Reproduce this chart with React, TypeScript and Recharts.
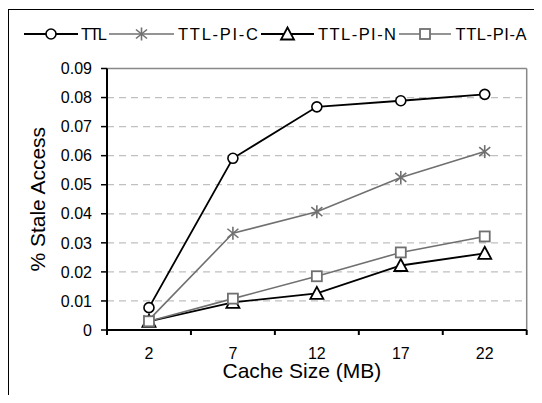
import React from 'react';
import { LineChart, Line, XAxis, YAxis, CartesianGrid, ReferenceLine, Label } from 'recharts';

const cacheSizes = ['2', '7', '12', '17', '22'];
const ttl = [0.0077, 0.0591, 0.0768, 0.0789, 0.0811];
const ttlPiC = [0.0035, 0.0333, 0.0407, 0.0525, 0.0614];
const ttlPiN = [0.003, 0.0095, 0.0126, 0.0222, 0.0264];
const ttlPiA = [0.003, 0.0108, 0.0185, 0.0267, 0.0322];
const yTicks = [0, 0.01, 0.02, 0.03, 0.04, 0.05, 0.06, 0.07, 0.08, 0.09];
const xTickPositions = [-0.5, 0, 0.5, 1, 1.5, 2, 2.5, 3, 3.5, 4, 4.5];
const seriesNames = ['TTL', 'TTL-PI-C', 'TTL-PI-N', 'TTL-PI-A'];

const data = cacheSizes.map((s, i) => ({
  i,
  size: s,
  ttl: ttl[i],
  piC: ttlPiC[i],
  piN: ttlPiN[i],
  piA: ttlPiA[i],
}));

const FONT = '"Liberation Sans", Arial, sans-serif';
const GRAY = '#707070';

const circleShape = (cx: number, cy: number) => (
  <circle cx={cx} cy={cy} r={5} fill="#fff" stroke="#000" strokeWidth={1.6} />
);
const starShape = (cx: number, cy: number) => (
  <g stroke={GRAY} strokeWidth={1.6}>
    <line x1={cx} y1={cy - 6.5} x2={cx} y2={cy + 6.5} />
    <line x1={cx - 5.5} y1={cy - 4.5} x2={cx + 5.5} y2={cy + 4.5} />
    <line x1={cx - 5.5} y1={cy + 4.5} x2={cx + 5.5} y2={cy - 4.5} />
  </g>
);
const triShape = (cx: number, cy: number) => (
  <polygon
    points={`${cx},${cy - 6.5} ${cx + 6.5},${cy + 5.5} ${cx - 6.5},${cy + 5.5}`}
    fill="#fff"
    stroke="#000"
    strokeWidth={1.8}
  />
);
const squareShape = (cx: number, cy: number) => (
  <rect x={cx - 5} y={cy - 5} width={10} height={10} fill="#fff" stroke={GRAY} strokeWidth={1.8} />
);

const makeDot = (shape: (cx: number, cy: number) => React.ReactNode) => (p: any) => (
  <g key={`d-${p.index}`}>{p.cx != null && p.cy != null ? shape(p.cx, p.cy) : null}</g>
);

const XTick = (props: any) => {
  const { x, y, payload } = props;
  const v = payload.value;
  if (Number.isInteger(v)) {
    return (
      <text x={x} y={y + 18} dy="0.71em" textAnchor="middle" fontSize={16} fontFamily={FONT} fill="#000">
        {cacheSizes[v]}
      </text>
    );
  }
  return <line x1={x} x2={x} y1={y} y2={y + 5} stroke="#000" strokeWidth={2} />;
};

const legendItems = [
  { name: seriesNames[0], color: '#000', shape: circleShape, lx: 16, lw: 54, tx: 73, tw: 26 },
  { name: seriesNames[1], color: GRAY, shape: starShape, lx: 101, lw: 65, tx: 170, tw: 80 },
  { name: seriesNames[2], color: '#000', shape: triShape, lx: 253, lw: 53, tx: 310, tw: 78 },
  { name: seriesNames[3], color: GRAY, shape: squareShape, lx: 391, lw: 52, tx: 447.5, tw: 71 },
];

const ChartLegend = () => (
  <svg width={526} height={60} style={{ position: 'absolute', left: 0, top: 0 }}>
    {legendItems.map((it) => (
      <g key={it.name}>
        <line x1={it.lx} x2={it.lx + it.lw} y1={26} y2={26} stroke={it.color} strokeWidth={it.color === '#000' ? 2 : 1.6} />
        {it.shape(it.lx + it.lw / 2, 26)}
        <text
          x={it.tx}
          y={26}
          dy="0.36em"
          fontSize={16.5}
          fontFamily={FONT}
          fill="#000"
          textLength={it.tw}
          lengthAdjust="spacing"
        >
          {it.name}
        </text>
      </g>
    ))}
  </svg>
);

export default function App() {
  return (
    <div style={{ position: 'relative', width: 526, height: 387, fontFamily: FONT }}>
      <div
        style={{
          position: 'absolute',
          left: 0,
          top: 1,
          width: 526,
          height: 386,
          borderLeft: '1px solid #000',
          borderTop: '1px solid #000',
          boxSizing: 'border-box',
        }}
      />
      <ChartLegend />
      <div style={{ position: 'absolute', left: 0, top: 0 }}>
        <LineChart width={526} height={387} data={data} margin={{ top: 60.5, right: 7.3, left: 0, bottom: 15 }}>
          <CartesianGrid horizontal vertical={false} stroke="#c0c0c0" strokeDasharray="7 5" strokeWidth={1.2} />
          <XAxis
            dataKey="i"
            type="number"
            domain={[-0.5, 4.5]}
            ticks={xTickPositions}
            interval={0}
            height={50}
            tickSize={0}
            tickMargin={0}
            tickLine={false}
            axisLine={{ stroke: '#000', strokeWidth: 2 }}
            tick={<XTick />}
          >
            <Label
              content={(p: any) => {
                const vb = p.viewBox || { x: 99, y: 322, width: 419.7, height: 50 };
                return (
                  <text
                    x={vb.x + vb.width / 2 - 15}
                    y={vb.y + 48.3}
                    textAnchor="middle"
                    fontSize={21}
                    fontFamily={FONT}
                    fill="#000"
                  >
                    Cache Size (MB)
                  </text>
                );
              }}
            />
          </XAxis>
          <YAxis
            type="number"
            domain={[0, 0.09]}
            ticks={yTicks}
            interval={0}
            width={99}
            tickSize={6}
            tickMargin={9}
            tickFormatter={(v: number) => (v === 0 ? '0' : v.toFixed(2))}
            tick={{ fontSize: 16, fill: '#000', fontFamily: FONT }}
            tickLine={{ stroke: '#000', strokeWidth: 1.5 }}
            axisLine={{ stroke: '#000', strokeWidth: 2 }}
          >
            <Label
              content={(p: any) => {
                const vb = p.viewBox || { x: 0, y: 60.5, width: 99, height: 261.5 };
                const cx = vb.x + 29;
                const cy = vb.y + vb.height / 2;
                return (
                  <text
                    x={cx}
                    y={cy}
                    transform={`rotate(-90, ${cx}, ${cy})`}
                    textAnchor="middle"
                    dominantBaseline="central"
                    fontSize={21}
                    fontFamily={FONT}
                    fill="#000"
                  >
                    % Stale Access
                  </text>
                );
              }}
            />
          </YAxis>
          <ReferenceLine y={0.09} stroke="#888" strokeWidth={1.5} />
          <ReferenceLine x={4.5} stroke="#888" strokeWidth={1.5} />
          <Line dataKey="ttl" name={seriesNames[0]} stroke="#000" strokeWidth={1.8} dot={makeDot(circleShape)} isAnimationActive={false} />
          <Line dataKey="piC" name={seriesNames[1]} stroke={GRAY} strokeWidth={1.6} dot={makeDot(starShape)} isAnimationActive={false} />
          <Line dataKey="piN" name={seriesNames[2]} stroke="#000" strokeWidth={1.8} dot={makeDot(triShape)} isAnimationActive={false} />
          <Line dataKey="piA" name={seriesNames[3]} stroke={GRAY} strokeWidth={1.6} dot={makeDot(squareShape)} isAnimationActive={false} />
        </LineChart>
      </div>
    </div>
  );
}
